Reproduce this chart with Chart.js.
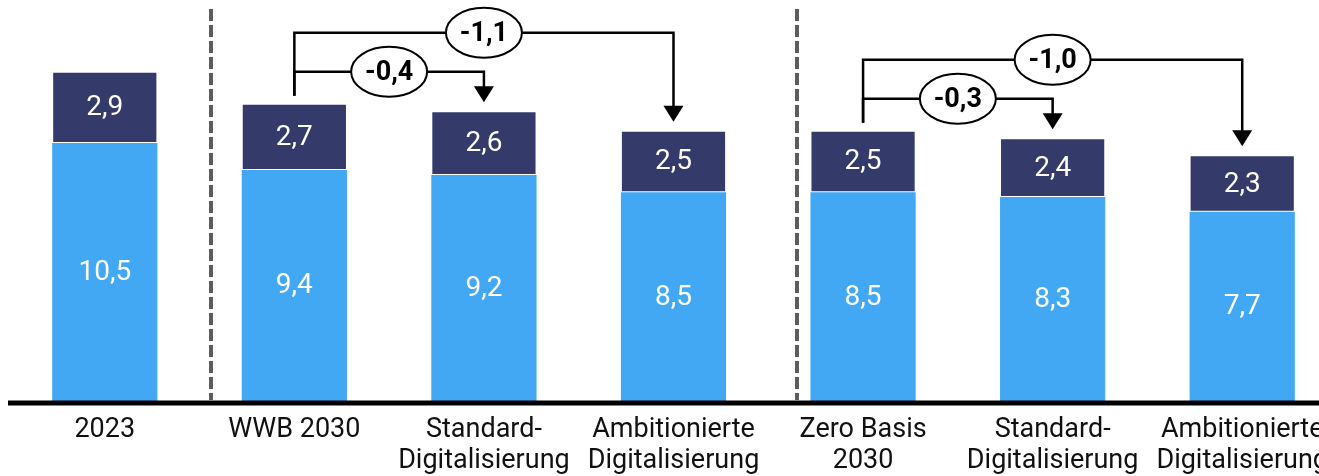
<!DOCTYPE html>
<html lang="de">
<head>
    <meta charset="UTF-8">
    <title>Szenarien 2030</title>
    <style>
        * {
            margin: 0;
            padding: 0;
            box-sizing: border-box;
        }
        body {
            background: #fff;
            overflow: hidden;
            font-family: Roboto, Arial, sans-serif;
        }
        .chart-box {
            width: 1342px;
            height: 491px;
        }
    </style>
</head>
<body>

<div class="chart-box">
    <canvas id="chart"></canvas>
</div>

<script src="https://cdn.jsdelivr.net/npm/chart.js@4.4.0/dist/chart.umd.min.js"></script>

<script>
// Daten
const categories = [
    '2023',
    'WWB 2030',
    ['Standard-', 'Digitalisierung'],
    ['Ambitionierte', 'Digitalisierung'],
    ['Zero Basis', '2030'],
    ['Standard-', 'Digitalisierung'],
    ['Ambitionierte', 'Digitalisierung']
];
const lowerValues = [10.5, 9.4, 9.2, 8.5, 8.5, 8.3, 7.7];
const upperValues = [2.9, 2.7, 2.6, 2.5, 2.5, 2.4, 2.3];

// Klammern: von Balken, zu Balken, Wert, Ebene
const bracketFrom = [1, 1, 4, 4];
const bracketTo = [2, 3, 5, 6];
const bracketLabels = ['-0,4', '-1,1', '-0,3', '-1,0'];
const bracketLevel = ['inner', 'outer', 'inner', 'outer'];

// Trennlinien (Position auf der Kategorie-Achse)
const separators = [0.56, 3.65];

const fmt = v => v.toFixed(1).replace('.', ',');

// Werte in den Balken
const valueLabels = {
    id: 'valueLabels',
    afterDatasetsDraw(chart) {
        const ctx = chart.ctx;
        ctx.save();
        ctx.fillStyle = '#fff';
        ctx.font = '28px Roboto';
        ctx.textAlign = 'center';
        ctx.textBaseline = 'middle';
        chart.data.datasets.forEach((ds, i) => {
            chart.getDatasetMeta(i).data.forEach((bar, j) => {
                const mid = (bar.y + bar.base) / 2;
                ctx.fillText(fmt(ds.data[j]), bar.x, mid + 1);
            });
        });
        ctx.restore();
    }
};

// Grundlinie, Trennlinien, Klammern
const extras = {
    id: 'extras',
    afterDatasetsDraw(chart) {
        const ctx = chart.ctx;
        const x = chart.scales.x;
        const area = chart.chartArea;
        const top = i => chart.getDatasetMeta(1).data[i].y;
        ctx.save();

        // Grundlinie
        ctx.strokeStyle = '#000';
        ctx.lineWidth = 5;
        ctx.beginPath();
        ctx.moveTo(8, area.bottom + 2);
        ctx.lineTo(chart.width, area.bottom + 2);
        ctx.stroke();

        // gestrichelte Trennlinien
        ctx.strokeStyle = '#5c5c5c';
        ctx.lineWidth = 4;
        ctx.setLineDash([12, 4]);
        separators.forEach(s => {
            const px = Math.round(x.getPixelForValue(s));
            ctx.beginPath();
            ctx.moveTo(px, area.top + 1);
            ctx.lineTo(px, area.bottom - 1);
            ctx.stroke();
        });
        ctx.setLineDash([]);

        // Klammern mit Pfeilen
        ctx.strokeStyle = '#000';
        ctx.fillStyle = '#000';
        ctx.lineWidth = 2.5;
        bracketFrom.forEach((from, k) => {
            const to = bracketTo[k];
            const x0 = x.getPixelForValue(from);
            const x1 = x.getPixelForValue(to);
            const rise = bracketLevel[k] === 'outer' ? 71 : 32;
            const yLine = top(from) - rise;
            const yEnd = top(to) - 9;

            ctx.beginPath();
            ctx.moveTo(x0, top(from) - 8);
            ctx.lineTo(x0, yLine);
            ctx.lineTo(x1, yLine);
            ctx.lineTo(x1, yEnd - 14);
            ctx.stroke();

            ctx.beginPath();
            ctx.moveTo(x1 - 10, yEnd - 16);
            ctx.lineTo(x1 + 10, yEnd - 16);
            ctx.lineTo(x1, yEnd);
            ctx.closePath();
            ctx.fill();

            const cx = (x0 + x1) / 2;
            ctx.save();
            ctx.fillStyle = '#fff';
            ctx.lineWidth = 2;
            ctx.beginPath();
            ctx.ellipse(cx, yLine, 38, 25, 0, 0, Math.PI * 2);
            ctx.fill();
            ctx.stroke();
            ctx.fillStyle = '#000';
            ctx.font = 'bold 27px Roboto';
            ctx.textAlign = 'center';
            ctx.textBaseline = 'middle';
            ctx.fillText(bracketLabels[k], cx, yLine + 1);
            ctx.restore();
        });

        ctx.restore();
    }
};

new Chart(document.getElementById('chart'), {
    type: 'bar',
    data: {
        labels: categories,
        datasets: [
            {
                data: lowerValues,
                backgroundColor: '#42A8F4',
                barPercentage: 1,
                categoryPercentage: 0.555
            },
            {
                data: upperValues,
                backgroundColor: '#343A6A',
                borderColor: 'rgba(255,255,255,0.35)',
                borderWidth: 1,
                borderSkipped: false,
                barPercentage: 1,
                categoryPercentage: 0.555
            }
        ]
    },
    options: {
        responsive: true,
        maintainAspectRatio: false,
        animation: false,
        layout: {
            padding: { left: 10, top: 8, right: 0, bottom: 0 }
        },
        plugins: {
            legend: { display: false },
            tooltip: { enabled: false }
        },
        scales: {
            x: {
                stacked: true,
                grid: { display: false, drawTicks: false },
                border: { display: false },
                ticks: {
                    color: '#111',
                    font: { family: 'Roboto', size: 27, lineHeight: 1.15 },
                    padding: 14,
                    autoSkip: false,
                    maxRotation: 0
                }
            },
            y: {
                stacked: true,
                display: false,
                min: 0,
                max: 16
            }
        }
    },
    plugins: [valueLabels, extras]
});
</script>

</body>
</html>
